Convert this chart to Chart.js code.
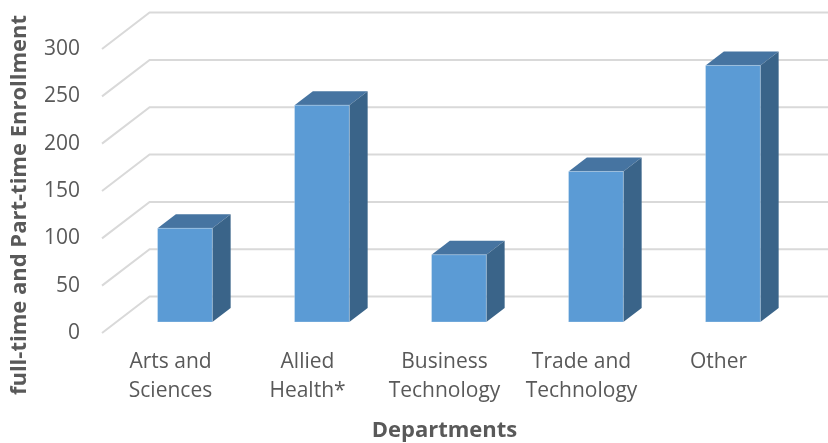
<!DOCTYPE html>
<html>
<head>
<meta charset="utf-8">
<script src="https://cdn.jsdelivr.net/npm/chart.js@4/dist/chart.umd.min.js"></script>
<style>
  html, body { margin: 0; padding: 0; background: #fff; }
  #wrap { width: 828px; height: 443px; }
</style>
</head>
<body>
<div id="wrap"><canvas id="chart" width="828" height="443"></canvas></div>
<script>
const departments = [
  ["Arts and", "Sciences"],
  ["Allied", "Health*"],
  ["Business", "Technology"],
  ["Trade and", "Technology"],
  ["Other"]
];
const enrollment = [99, 229, 71, 159, 271];
const yMin = 0;
const yMax = 300;
const yStep = 50;
const xTitle = "Departments";
const yTitle = "full-time and Part-time Enrollment";

const TEXT = "#595959";
const FRONT = "#5b9bd5";
const TOP = "#4674a1";
const SIDE = "#3a6489";
const GRID = "#d9d9d9";

// oblique depth, measured in fractions of one category width
const depth = (chart) => {
  const area = chart.chartArea;
  const catW = (area.right - area.left) / chart.data.labels.length;
  const dx = catW * 0.3475;
  return { dx, dy: -dx * 0.765 };
};

const poly = (ctx, pts, color) => {
  ctx.beginPath();
  ctx.moveTo(pts[0][0], pts[0][1]);
  pts.slice(1).forEach((p) => ctx.lineTo(p[0], p[1]));
  ctx.closePath();
  ctx.fillStyle = color;
  ctx.fill();
};

const bar3d = {
  id: "bar3d",
  beforeDatasetsDraw(chart) {
    const { ctx, chartArea } = chart;
    const yScale = chart.scales.y;
    const { dx, dy } = depth(chart);
    ctx.save();
    ctx.strokeStyle = GRID;
    ctx.lineWidth = 2;
    yScale.ticks.forEach((tick) => {
      const py = yScale.getPixelForValue(tick.value);
      ctx.beginPath();
      ctx.moveTo(chartArea.left, py);
      ctx.lineTo(chartArea.left + dx, py + dy);
      ctx.lineTo(chartArea.right + dx, py + dy);
      ctx.stroke();
    });
    ctx.restore();
  },
  afterDatasetsDraw(chart) {
    const { ctx } = chart;
    const { dx, dy } = depth(chart);
    const fx = dx * 0.303, fy = dy * 0.303;
    const bx = dx * 0.385, by = dy * 0.385;
    ctx.save();
    chart.getDatasetMeta(0).data.forEach((bar) => {
      const { x, y, base, width } = bar.getProps(["x", "y", "base", "width"], true);
      const l = x - width / 2 + fx;
      const r = x + width / 2 + fx;
      const t = y + fy;
      const b = base + fy;
      poly(ctx, [[l, t], [l + bx, t + by], [r + bx, t + by], [r, t]], TOP);
      poly(ctx, [[r, t], [r + bx, t + by], [r + bx, b + by], [r, b]], SIDE);
      poly(ctx, [[l, t], [r, t], [r, b], [l, b]], FRONT);
      ctx.strokeStyle = "rgba(255,255,255,0.25)";
      ctx.lineWidth = 1;
      ctx.strokeRect(l, t, r - l, b - t);
    });
    ctx.restore();
  },
  afterDraw(chart) {
    const { ctx, chartArea } = chart;
    ctx.save();
    ctx.fillStyle = TEXT;
    ctx.font = "bold 22px 'Open Sans', sans-serif";
    ctx.textAlign = "center";
    ctx.textBaseline = "middle";
    ctx.fillText(xTitle, (chartArea.left + chartArea.right) / 2, chart.height - 12);
    ctx.translate(20, 205);
    ctx.rotate(-Math.PI / 2);
    ctx.fillText(yTitle, 0, 0);
    ctx.restore();
  }
};

Chart.defaults.font.family = "'Open Sans', sans-serif";
Chart.defaults.color = TEXT;

new Chart(document.getElementById("chart"), {
  type: "bar",
  data: {
    labels: departments,
    datasets: [
      {
        label: "Enrollment",
        data: enrollment,
        backgroundColor: "rgba(0,0,0,0)",
        barPercentage: 0.4,
        categoryPercentage: 1
      }
    ]
  },
  plugins: [bar3d],
  options: {
    responsive: false,
    animation: false,
    layout: { padding: { left: 0, right: 41, top: 49, bottom: 0 } },
    plugins: {
      legend: { display: false },
      tooltip: { enabled: false }
    },
    scales: {
      x: {
        grid: { display: false, drawTicks: false },
        border: { display: false },
        ticks: {
          color: TEXT,
          font: { size: 21, lineHeight: 1.38 },
          padding: 15,
          maxRotation: 0,
          autoSkip: false
        },
        afterFit: (scale) => { scale.height = 110; }
      },
      y: {
        min: yMin,
        max: yMax,
        grid: { display: false, drawTicks: false },
        border: { display: false },
        ticks: {
          stepSize: yStep,
          color: TEXT,
          font: { size: 21 },
          padding: 22
        },
        afterFit: (scale) => { scale.width = 102; }
      }
    }
  }
});
</script>
</body>
</html>
